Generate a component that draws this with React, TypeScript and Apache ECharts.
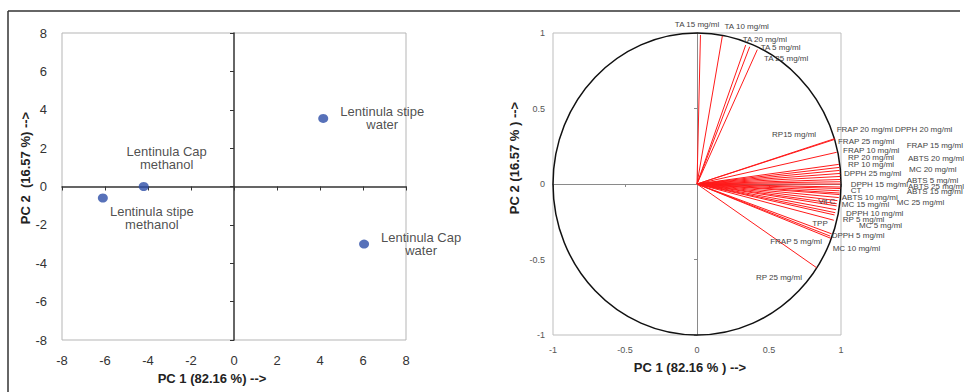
import React, { useEffect, useRef } from "react";
import * as echarts from "echarts";

// ---------- Left chart: PCA scores ----------
const sampleNames = [
  "Lentinula Cap\nmethanol",
  "Lentinula stipe\nmethanol",
  "Lentinula stipe\nwater",
  "Lentinula Cap\nwater",
];
const scorePC1 = [-4.2, -6.1, 4.15, 6.05];
const scorePC2 = [0.0, -0.6, 3.55, -3.0];
// label offsets in px (layout only)
const scoreLabelOffsets = [
  [23, -29],
  [49, 20],
  [59, 0],
  [57, 0],
];

// ---------- Right chart: loadings ----------
const loadingNames = [
  "TA 15 mg/ml", "TA 10 mg/ml", "TA 20 mg/ml", "TA 5 mg/ml", "TA 25 mg/ml",
  "FRAP 20 mg/ml", "DPPH 20 mg/ml", "RP15 mg/ml", "FRAP 25 mg/ml", "FRAP 15 mg/ml",
  "FRAP 10 mg/ml", "ABTS 20 mg/ml", "RP 20 mg/ml", "RP 10 mg/ml", "MC 20 mg/ml",
  "DPPH 25 mg/ml", "ABTS 5 mg/ml", "DPPH 15 mg/ml", "ABTS 25 mg/ml", "CT",
  "ABTS 15 mg/ml", "ABTS 10 mg/ml", "Vit C", "MC 15 mg/ml", "MC 25 mg/ml",
  "DPPH 10 mg/ml", "RP 5 mg/ml", "MC 5 mg/ml", "TPP", "DPPH 5 mg/ml",
  "FRAP 5 mg/ml", "MC 10 mg/ml", "RP 25 mg/ml",
];
const loadingPC1 = [
  0.024, 0.176, 0.338, 0.366, 0.419,
  0.955, 0.99, 0.955, 0.97, 0.995,
  0.985, 0.995, 0.99, 0.995, 0.995,
  0.995, 0.995, 0.995, 0.99, 0.99,
  0.99, 0.985, 0.975, 0.97, 0.97,
  0.965, 0.96, 0.955, 0.95, 0.935,
  0.925, 0.93, 0.83,
];
const loadingPC2 = [
  0.987, 0.98, 0.92, 0.909, 0.89,
  0.30, 0.09, 0.295, 0.21, 0.05,
  0.13, 0.03, 0.11, 0.07, 0.015,
  0.0, -0.02, -0.03, -0.045, -0.06,
  -0.07, -0.09, -0.11, -0.13, -0.145,
  -0.17, -0.19, -0.205, -0.24, -0.33,
  -0.345, -0.36, -0.554,
];
// label anchors (layout only, in axis units) and alignment
const labelAnchorX = [
  0.0, 0.345, 0.317, 0.442, 0.465,
  0.970, 1.375, 0.674, 0.979, 1.456,
  1.014, 1.465, 1.049, 1.049, 1.472,
  1.021, 1.456, 1.067, 1.465, 1.067,
  1.456, 1.005, 0.901, 1.005, 1.387,
  1.035, 1.012, 1.125, 0.854, 0.935,
  0.688, 0.942, 0.569,
];
const labelAnchorY = [
  1.055, 1.042, 0.960, 0.903, 0.828,
  0.364, 0.364, 0.325, 0.280, 0.258,
  0.219, 0.170, 0.177, 0.132, 0.097,
  0.071, 0.026, 0.0, -0.018, -0.044,
  -0.051, -0.088, -0.113, -0.139, -0.124,
  -0.194, -0.238, -0.278, -0.260, -0.338,
  -0.384, -0.426, -0.618,
];
const centeredLabels = ["TA 15 mg/ml", "TA 10 mg/ml", "RP15 mg/ml", "Vit C", "TPP", "FRAP 5 mg/ml", "RP 25 mg/ml"];

const FONT = "'Liberation Sans', Arial, Helvetica, sans-serif";

export default function App() {
  const ref = useRef<HTMLDivElement>(null);

  useEffect(() => {
    document.body.style.margin = "0";
    if (!ref.current) return;
    const chart = echarts.init(ref.current, undefined, { renderer: "svg" });

    const labelAxis = (gridIndex: number, min: number, max: number, interval: number, fontSize: number, color: string, margin: number) => ({
      type: "value",
      gridIndex,
      min,
      max,
      interval,
      axisLine: { show: false, onZero: false },
      axisTick: { show: false },
      splitLine: { show: false },
      axisLabel: { fontSize, color, margin, fontFamily: FONT },
    });
    const zeroAxis = (gridIndex: number, min: number, max: number, interval: number, color: string, width: number, tickLen: number, position: string) => ({
      type: "value",
      gridIndex,
      min,
      max,
      interval,
      position,
      axisLine: { show: true, onZero: true, lineStyle: { color, width } },
      axisTick: { show: true, length: tickLen, lineStyle: { color, width: 1 } },
      splitLine: { show: false },
      axisLabel: { show: false },
    });

    const option: any = {
      animation: false,
      backgroundColor: "#ffffff",
      textStyle: { fontFamily: FONT },
      grid: [
        { left: 62, top: 33, width: 344, height: 307, show: true, borderColor: "#b5b5b5", borderWidth: 1, backgroundColor: "transparent" },
        { left: 553, top: 33, width: 288, height: 302, show: true, borderColor: "#bdbdbd", borderWidth: 1, backgroundColor: "transparent" },
      ],
      xAxis: [
        { ...labelAxis(0, -8, 8, 2, 13, "#333", 14), position: "bottom" },
        zeroAxis(0, -8, 8, 2, "#333", 1.5, 4, "bottom"),
        { ...labelAxis(1, -1, 1, 0.5, 9, "#555", 10), position: "bottom" },
        zeroAxis(1, -1, 1, 0.5, "#8a8a8a", 1, 3, "bottom"),
      ],
      yAxis: [
        { ...labelAxis(0, -8, 8, 2, 13, "#333", 15), position: "left" },
        zeroAxis(0, -8, 8, 2, "#333", 1.5, 4, "left"),
        { ...labelAxis(1, -1, 1, 0.5, 9, "#555", 8), position: "left" },
        zeroAxis(1, -1, 1, 0.5, "#8a8a8a", 1, 3, "left"),
      ],
      graphic: [
        { type: "line", shape: { x1: 8, y1: 11, x2: 960, y2: 11 }, style: { stroke: "#333", lineWidth: 1.5 } },
        { type: "line", shape: { x1: 8, y1: 11, x2: 8, y2: 392 }, style: { stroke: "#333", lineWidth: 1.5 } },
        { type: "text", x: 212, y: 378, style: { text: "PC 1 (82.16 %) -->", font: `bold 13px ${FONT}`, fill: "#222", align: "center", verticalAlign: "middle" } },
        { type: "text", x: 25, y: 168, rotation: Math.PI / 2, style: { text: "PC 2  (16.57 %) -->", font: `bold 13px ${FONT}`, fill: "#222", align: "center", verticalAlign: "middle" } },
        { type: "text", x: 690, y: 367, style: { text: "PC 1 (82.16 % ) -->", font: `bold 13px ${FONT}`, fill: "#222", align: "center", verticalAlign: "middle" } },
        { type: "text", x: 514, y: 158, rotation: Math.PI / 2, style: { text: "PC 2 (16.57 % ) -->", font: `bold 13px ${FONT}`, fill: "#222", align: "center", verticalAlign: "middle" } },
      ],
      series: [
        {
          type: "scatter",
          xAxisIndex: 0,
          yAxisIndex: 0,
          symbol: "circle",
          symbolSize: [10, 9],
          itemStyle: { color: "#2d4ea8" },
          z: 5,
          data: scorePC1.map((x, i) => ({
            value: [x, scorePC2[i]],
            label: {
              show: true,
              formatter: sampleNames[i],
              position: "inside",
              offset: scoreLabelOffsets[i],
              align: "center",
              verticalAlign: "middle",
              fontSize: 13,
              lineHeight: 13,
              color: "#222",
              fontFamily: FONT,
            },
          })),
        },
        {
          type: "custom",
          xAxisIndex: 2,
          yAxisIndex: 2,
          silent: true,
          data: [[0, 0]],
          renderItem: (_params: any, api: any) => {
            const c = api.coord([0, 0]);
            const s = api.size([1, 1]);
            return {
              type: "ellipse",
              shape: { cx: c[0], cy: c[1], rx: s[0], ry: s[1] },
              style: { fill: "none", stroke: "#111", lineWidth: 1.5 },
            };
          },
          z: 3,
        },
        {
          type: "custom",
          xAxisIndex: 2,
          yAxisIndex: 2,
          silent: true,
          data: loadingPC1.map((x, i) => [x, loadingPC2[i]]),
          renderItem: (_params: any, api: any) => {
            const o = api.coord([0, 0]);
            const p = api.coord([api.value(0), api.value(1)]);
            return {
              type: "line",
              shape: { x1: o[0], y1: o[1], x2: p[0], y2: p[1] },
              style: { stroke: "#ff1a1a", lineWidth: 1 },
            };
          },
          z: 4,
        },
        {
          type: "custom",
          xAxisIndex: 2,
          yAxisIndex: 2,
          silent: true,
          data: labelAnchorX.map((x, i) => [x, labelAnchorY[i]]),
          renderItem: (params: any, api: any) => {
            const p = api.coord([api.value(0), api.value(1)]);
            const name = loadingNames[params.dataIndex];
            return {
              type: "text",
              x: p[0],
              y: p[1],
              style: {
                text: name,
                font: `8px ${FONT}`,
                fill: "#444",
                align: centeredLabels.indexOf(name) >= 0 ? "center" : "left",
                verticalAlign: "middle",
              },
            };
          },
          z: 6,
        },
      ],
    };

    chart.setOption(option);
    return () => chart.dispose();
  }, []);

  return <div ref={ref} style={{ width: 964, height: 392 }} />;
}
